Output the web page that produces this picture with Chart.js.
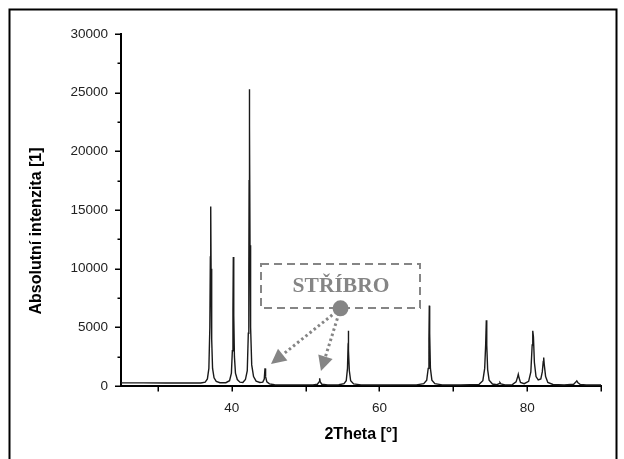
<!DOCTYPE html>
<html>
<head>
<meta charset="utf-8">
<script src="https://cdn.jsdelivr.net/npm/chart.js@4.4.1/dist/chart.umd.min.js"></script>
<style>
  html, body { margin: 0; padding: 0; background: #fff; }
  canvas { display: block; }
</style>
</head>
<body>
<canvas id="c" width="624" height="459"></canvas>
<script>
// ---- data ----
const twoTheta = [
  25.0, 28.0, 31.0, 34.0, 35.8, 36.4, 36.7, 36.9, 37.03, 37.1, 37.15, 37.2, 37.28, 37.4, 37.6, 37.9, 38.4,
  39.2, 39.7, 39.95, 40.08, 40.16, 40.21, 40.27, 40.36, 40.5, 40.75, 41.1,
  41.5, 41.85, 42.1, 42.24, 42.31, 42.35, 42.38, 42.42, 42.47, 42.55, 42.7, 42.95, 43.3, 43.8,
  44.2, 44.4, 44.5, 44.58, 44.75, 45.1, 45.8, 47.0, 49.0,
  51.0, 51.6, 51.82, 51.9, 51.98, 52.2, 53.0, 54.5,
  55.2, 55.5, 55.67, 55.74, 55.78, 55.83, 55.92, 56.1, 56.5, 57.5, 60.0, 63.0, 65.0,
  66.0, 66.4, 66.6, 66.7, 66.75, 66.8, 66.9, 67.1, 67.5, 68.5, 71.0,
  73.5, 74.0, 74.25, 74.38, 74.47, 74.53, 74.65, 74.85, 75.3, 75.9, 76.2, 76.32, 76.45, 77.0,
  78.0, 78.5, 78.72, 78.8, 78.9, 79.1, 79.6,
  80.2, 80.5, 80.68, 80.76, 80.85, 80.98, 81.2, 81.5,
  81.85, 82.05, 82.18, 82.24, 82.32, 82.5, 82.8, 83.5, 85.0,
  86.3, 86.6, 86.72, 86.85, 87.2, 88.0, 90.0
];
const intensity = [
  270, 265, 260, 255, 260, 330, 600, 1500, 5000, 11000, 15300, 10000, 4000, 1500, 700, 400, 280,
  280, 450, 1100, 3000, 6500, 11000, 6000, 2500, 1100, 550, 330,
  300, 550, 1300, 4500, 10000, 17500, 25300, 22200, 12000, 5000, 1800, 800, 420, 300,
  330, 600, 1500, 800, 350, 180, 110, 100, 95,
  100, 150, 350, 650, 350, 150, 100, 110,
  200, 450, 1500, 3200, 4700, 3000, 1300, 450, 180, 100, 90, 95, 100,
  200, 500, 1500, 4000, 6850, 4500, 1500, 500, 200, 100, 90,
  140, 450, 1500, 3500, 5600, 3500, 1400, 500, 170, 110, 200, 290, 180, 100,
  120, 350, 800, 1000, 700, 300, 200,
  400, 1200, 3500, 4700, 4200, 2000, 800, 520,
  600, 1200, 2100, 2420, 1800, 800, 300, 130, 90,
  150, 350, 430, 300, 130, 90, 85
];
const xTickLabels = [40, 60, 80];
const xTickMarks = [30, 40, 50, 60, 70, 80, 90];
const yTickLabels = [0, 5000, 10000, 15000, 20000, 25000, 30000];
const yMinorTicks = [2500, 7500, 12500, 17500, 22500, 27500];
const xTitle = '2Theta [°]';
const yTitle = 'Absolutní intenzita [1]';
const calloutText = 'STŘÍBRO';

// ---- callout placement (in data units) ----
const callout = {
  box: { x0: 43.96, x1: 65.49, y0: 6648, y1: 10398 },
  dot: { x: 54.73, y: 6622 },
  tips: [ { x: 45.31, y: 1875 }, { x: 52.08, y: 1278 } ]
};

const points = twoTheta.map((t, i) => ({ x: t, y: intensity[i] }));
const FONT = '"Liberation Sans", Arial, sans-serif';
const GREY = '#858585';

const decor = {
  id: 'decor',
  beforeDraw(chart) {
    const ctx = chart.ctx;
    ctx.save();
    ctx.fillStyle = '#fff';
    ctx.fillRect(0, 0, chart.width, chart.height);
    ctx.strokeStyle = '#000';
    ctx.lineWidth = 2;
    ctx.strokeRect(9.5, 9.5, 607, 470);
    ctx.restore();
  },
  afterDraw(chart) {
    const ctx = chart.ctx;
    const xs = chart.scales.x, ys = chart.scales.y;
    const a = chart.chartArea;
    ctx.save();
    // tick marks
    ctx.strokeStyle = '#000';
    ctx.lineWidth = 1.5;
    ctx.beginPath();
    xTickMarks.forEach(v => {
      const px = Math.round(xs.getPixelForValue(v)) + 0.25;
      ctx.moveTo(px, a.bottom); ctx.lineTo(px, a.bottom + 5.5);
    });
    yTickLabels.forEach(v => {
      const py = Math.round(ys.getPixelForValue(v)) + 0.25;
      ctx.moveTo(a.left, py); ctx.lineTo(a.left - 6, py);
    });
    yMinorTicks.forEach(v => {
      const py = Math.round(ys.getPixelForValue(v)) + 0.25;
      ctx.moveTo(a.left, py); ctx.lineTo(a.left - 3.5, py);
    });
    ctx.stroke();

    // axis titles
    ctx.fillStyle = '#000';
    ctx.font = 'bold 16px ' + FONT;
    ctx.textAlign = 'center';
    ctx.textBaseline = 'alphabetic';
    ctx.fillText(xTitle, (a.left + a.right) / 2, a.bottom + 52.5);
    ctx.save();
    ctx.translate(41, (a.top + a.bottom) / 2 + 21);
    ctx.rotate(-Math.PI / 2);
    ctx.fillText(yTitle, 0, 0);
    ctx.restore();

    // callout
    const b = callout.box;
    const L = xs.getPixelForValue(b.x0), R = xs.getPixelForValue(b.x1);
    const T = ys.getPixelForValue(b.y1), B = ys.getPixelForValue(b.y0);
    ctx.strokeStyle = GREY;
    ctx.lineWidth = 2;
    ctx.setLineDash([8, 5]);
    ctx.strokeRect(L, T, R - L, B - T);
    ctx.setLineDash([]);
    ctx.fillStyle = GREY;
    ctx.font = 'bold 21.5px "Liberation Serif", "Times New Roman", serif';
    ctx.textAlign = 'center';
    ctx.textBaseline = 'alphabetic';
    ctx.fillText(calloutText, (L + R) / 2 + 0.5, T + 28.5);

    const cx = xs.getPixelForValue(callout.dot.x), cy = ys.getPixelForValue(callout.dot.y);
    callout.tips.forEach(tp => {
      const tx = xs.getPixelForValue(tp.x), ty = ys.getPixelForValue(tp.y);
      const dx = tx - cx, dy = ty - cy, len = Math.hypot(dx, dy);
      const ux = dx / len, uy = dy / len;
      const head = 15, hw = 7.5;
      const bx = tx - ux * head, by = ty - uy * head;
      ctx.strokeStyle = GREY;
      ctx.lineWidth = 3;
      ctx.setLineDash([2.5, 2.8]);
      ctx.beginPath();
      ctx.moveTo(cx, cy);
      ctx.lineTo(bx, by);
      ctx.stroke();
      ctx.setLineDash([]);
      ctx.beginPath();
      ctx.moveTo(tx, ty);
      ctx.lineTo(bx - uy * hw, by + ux * hw);
      ctx.lineTo(bx + uy * hw, by - ux * hw);
      ctx.closePath();
      ctx.fill();
    });
    ctx.beginPath();
    ctx.arc(cx, cy, 8, 0, Math.PI * 2);
    ctx.fill();
    ctx.restore();
  }
};

new Chart(document.getElementById('c'), {
  type: 'scatter',
  data: {
    datasets: [{
      data: points,
      showLine: true,
      borderColor: '#1a1a1a',
      borderWidth: 1.4,
      pointRadius: 0,
      tension: 0,
      fill: false
    }]
  },
  options: {
    responsive: false,
    animation: false,
    devicePixelRatio: 1,
    layout: { padding: { top: 34, right: 23, bottom: 0, left: 0 } },
    plugins: { legend: { display: false }, tooltip: { enabled: false } },
    scales: {
      x: {
        type: 'linear',
        min: 25, max: 90,
        grid: { display: false, drawTicks: false },
        border: { display: true, color: '#000', width: 2 },
        afterBuildTicks: s => { s.ticks = xTickLabels.map(v => ({ value: v })); },
        afterFit: s => { s.height = 73; },
        ticks: {
          color: '#222',
          font: { family: FONT, size: 13.5 },
          padding: 14,
          maxRotation: 0,
          autoSkip: false
        }
      },
      y: {
        type: 'linear',
        min: 0, max: 30000,
        grid: { display: false, drawTicks: false },
        border: { display: true, color: '#000', width: 2 },
        afterBuildTicks: s => { s.ticks = yTickLabels.map(v => ({ value: v })); },
        afterFit: s => { s.width = 121; },
        ticks: {
          color: '#222',
          font: { family: FONT, size: 13.5 },
          padding: 13,
          autoSkip: false,
          callback: v => String(v)
        }
      }
    }
  },
  plugins: [decor]
});
</script>
</body>
</html>
